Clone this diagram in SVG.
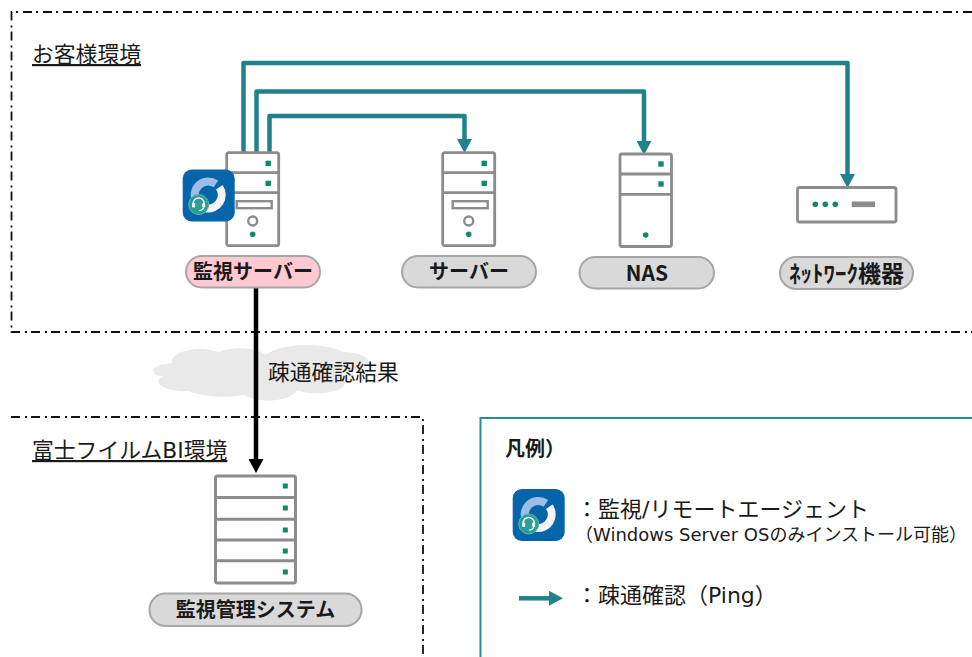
<svg xmlns="http://www.w3.org/2000/svg" width="972" height="657" viewBox="0 0 972 657">
<style>
text{font-family:"DejaVu Sans","Noto Sans CJK JP",sans-serif;fill:#1a1a1a}
.j{font-family:"Noto Sans CJK JP",sans-serif}
.h{font-size:21.8px;text-decoration:underline}
.l{font-size:20px;font-weight:700;text-anchor:middle;font-family:"Noto Sans CJK JP",sans-serif}
.p{fill:#d9d9d9;stroke:#a6a6a6;stroke-width:2}
.b{fill:#fff;stroke:#8c8c8c;stroke-width:2.800;stroke-linejoin:round}
.d{fill:none;stroke:#8c8c8c;stroke-width:2.800}
.g{fill:#118a6b}
.env{fill:none;stroke:#111;stroke-width:1.8;stroke-dasharray:9 5 2 4}
.t{fill:none;stroke:#21828c;stroke-width:4.500;stroke-linejoin:round}
</style>
<defs>
<marker id="ta" markerUnits="userSpaceOnUse" markerWidth="15" markerHeight="15" refX="0" refY="7.500" orient="auto"><path d="M0,0L14,7.500L0,15z" fill="#21828c"/></marker>
<marker id="ka" markerUnits="userSpaceOnUse" markerWidth="15" markerHeight="15" refX="0" refY="7.500" orient="auto"><path d="M0,0L14,7.500L0,15z" fill="#000"/></marker>
<g id="tower">
<rect class="b" x="0" y="0" width="52" height="93" rx="2"/>
<path class="d" d="M0,20H52M0,40H52"/>
<rect class="g" x="38.800" y="8" width="5.400" height="5.400"/>
<rect class="g" x="38.800" y="28" width="5.400" height="5.400"/>
<rect x="10" y="48.500" width="35" height="7" fill="#fff" stroke="#8c8c8c" stroke-width="2.400"/>
<circle cx="26" cy="68.300" r="4.500" fill="#fff" stroke="#8c8c8c" stroke-width="2.400"/>
<circle class="g" cx="26" cy="81.600" r="2.800"/>
</g>
<g id="agent">
<rect width="52" height="52" rx="9" fill="#0565ab"/>
<path d="M13.800,32.200A13.500,13.500 0 0 1 33.200,14.400" fill="none" stroke="#9dbde6" stroke-width="8"/>
<path d="M36.600,17.800A13.500,13.500 0 0 1 23.200,38.800" fill="none" stroke="#f5f5f5" stroke-width="8"/>
<circle cx="16" cy="35" r="10" fill="#2a9d94" stroke="#5fb8ae" stroke-width="1"/>
<path d="M10.500,36V34A5.500,5.500 0 0 1 21.500,34V36" fill="none" stroke="#fff" stroke-width="1.400"/>
<rect x="9.500" y="33.500" width="3" height="4.500" rx="1" fill="#fff"/>
<rect x="19.500" y="33.500" width="3" height="4.500" rx="1" fill="#fff"/>
<path d="M21,38Q20,41 16,41" fill="none" stroke="#fff" stroke-width="1.200"/>
</g>
</defs>

<g id="cloud" transform="translate(140 330) scale(.3333)" fill="#e9e9e9">
<ellipse cx="180" cy="95" rx="85" ry="38"/><ellipse cx="300" cy="95" rx="90" ry="40"/><ellipse cx="500" cy="90" rx="130" ry="45"/><ellipse cx="600" cy="95" rx="85" ry="30"/><ellipse cx="100" cy="122" rx="60" ry="22"/><ellipse cx="135" cy="155" rx="80" ry="28"/><ellipse cx="250" cy="165" rx="120" ry="35"/><ellipse cx="385" cy="170" rx="90" ry="42"/><ellipse cx="530" cy="158" rx="85" ry="32"/><ellipse cx="370" cy="125" rx="240" ry="50"/>
</g>

<g id="env-customer"><path class="env" d="M972,12H11.500V332H972"/><text class="h" x="32" y="62">お客様環境</text></g>
<g id="env-fujifilm"><path class="env" d="M11,417H423V657"/><text class="h" x="32" y="458">富士フイルムBI環境</text></g>

<g id="connectors">
<path class="t" marker-end="url(#ta)" d="M243.500,153V63H847.500V174"/>
<path class="t" marker-end="url(#ta)" d="M256.500,153V91.500H644V141"/>
<path class="t" marker-end="url(#ta)" d="M269.500,153V116H464.500V139"/>
<path fill="none" stroke="#000" stroke-width="4.500" marker-end="url(#ka)" d="M256,287V459"/>
</g>
<text id="result-label" class="j" x="268" y="380" font-size="21.800">疎通確認結果</text>

<g id="monitor-server">
<use href="#tower" x="226.700" y="152.700"/>
<use href="#agent" x="182.700" y="169.500"/>
<rect x="186" y="256" width="134" height="31.500" rx="15.700" fill="#ffc9d2" stroke="#a6a6a6" stroke-width="2"/>
<text class="l" x="253" y="279">監視サーバー</text>
</g>
<g id="server">
<use href="#tower" x="442.700" y="152.700"/>
<rect class="p" x="402" y="256" width="134" height="31.500" rx="15.700"/>
<text class="l" x="469" y="279">サーバー</text>
</g>
<g id="nas">
<rect class="b" x="620" y="154" width="51.500" height="92.500" rx="2"/>
<path class="d" d="M620,174H671.500M620,194.300H671.500"/>
<rect class="g" x="658.300" y="161.300" width="5.400" height="5.400"/>
<rect class="g" x="658.300" y="181.300" width="5.400" height="5.400"/>
<circle class="g" cx="645.700" cy="235" r="2.800"/>
<rect class="p" x="579.500" y="257" width="134.500" height="31.500" rx="15.700"/>
<text class="l" x="647" y="281" style="font-size:21px">NAS</text>
</g>
<g id="network">
<rect class="b" x="797.500" y="187.500" width="98.500" height="34.500" rx="2"/>
<circle class="g" cx="815.300" cy="204.300" r="2.800"/><circle class="g" cx="825.300" cy="204.300" r="2.800"/><circle class="g" cx="835.300" cy="204.300" r="2.800"/>
<rect x="851.700" y="201.500" width="23.300" height="5.600" fill="#8c8c8c"/>
<rect class="p" x="780" y="257" width="133" height="32" rx="16"/>
<text class="l" x="846.500" y="281.500" style="font-size:23px">ﾈｯﾄﾜｰｸ機器</text>
</g>
<g id="mgmt">
<rect x="215.500" y="476" width="80" height="107" rx="2" fill="#fff" stroke="#8c8c8c" stroke-width="3"/>
<path fill="none" stroke="#8c8c8c" stroke-width="3" d="M215,497.500H296M215,519.300H296M215,540H296M215,560.700H296"/>
<g class="g"><rect x="282.800" y="483.500" width="5" height="5"/><rect x="282.800" y="505.500" width="5" height="5"/><rect x="282.800" y="527.500" width="5" height="5"/><rect x="282.800" y="548.500" width="5" height="5"/><rect x="282.800" y="569.500" width="5" height="5"/></g>
<rect class="p" x="149.500" y="593.500" width="212" height="32.500" rx="16"/>
<text class="l" x="255.500" y="617">監視管理システム</text>
</g>

<g id="legend">
<path fill="none" stroke="#2b8c94" stroke-width="2" d="M972,418H480.500V657"/>
<text class="j" x="505" y="456" font-size="20" font-weight="700">凡例）</text>
<use href="#agent" x="512.700" y="489"/>
<text x="576" y="517" font-size="22">：監視/リモートエージェント</text>
<text x="575" y="541" font-size="18">（Windows Server OSのみインストール可能）</text>
<path class="t" marker-end="url(#ta)" d="M519,598.300H549"/>
<text x="576" y="603" font-size="22">：疎通確認（Ping）</text>
</g>
</svg>
